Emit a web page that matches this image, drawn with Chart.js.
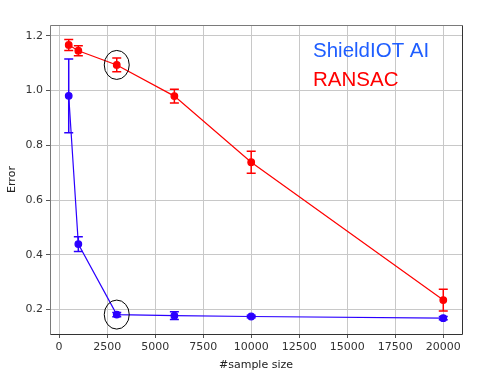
<!DOCTYPE html>
<html>
<head>
<meta charset="utf-8">
<script src="https://cdn.jsdelivr.net/npm/chart.js@4.4.1/dist/chart.umd.min.js"></script>
<style>
html,body{margin:0;padding:0;background:#fff;}
#wrap{width:483px;height:378px;position:relative;}
</style>
</head>
<body>
<div id="wrap"><canvas id="c" width="483" height="378"></canvas></div>
<script>
const sampleSizes = [500, 1000, 3000, 6000, 10000, 20000];
const shieldValues = [0.981, 0.439, 0.181, 0.177, 0.174, 0.168];
const shieldErrors = [0.135, 0.027, 0.008, 0.014, 0.005, 0.006];
const ransacValues = [1.167, 1.146, 1.094, 0.980, 0.738, 0.234];
const ransacErrors = [0.020, 0.018, 0.025, 0.025, 0.040, 0.040];
const xTicks = [0, 2500, 5000, 7500, 10000, 12500, 15000, 17500, 20000];
const yTicks = [0.2, 0.4, 0.6, 0.8, 1.0, 1.2];
const legendLabels = ['ShieldIOT AI', 'RANSAC'];
const highlightX = 3000;

const toPts = (xs, ys) => xs.map((x, i) => ({x: x, y: ys[i]}));
const BLUE = '#2b00ff', RED = '#ff0000';

const errorBarPlugin = {
  id: 'errbars',
  afterDatasetsDraw(chart) {
    const ctx = chart.ctx, xs = chart.scales.x, ys = chart.scales.y;
    chart.data.datasets.forEach(ds => {
      ctx.save();
      ctx.strokeStyle = ds.borderColor;
      ctx.lineWidth = 1.5;
      ds.data.forEach((p, i) => {
        const e = ds.errors[i];
        const px = xs.getPixelForValue(p.x);
        const y1 = ys.getPixelForValue(p.y + e), y2 = ys.getPixelForValue(p.y - e);
        ctx.beginPath();
        ctx.moveTo(px, y1); ctx.lineTo(px, y2);
        ctx.moveTo(px - 4.5, y1); ctx.lineTo(px + 4.5, y1);
        ctx.moveTo(px - 4.5, y2); ctx.lineTo(px + 4.5, y2);
        ctx.stroke();
      });
      ctx.restore();
    });
    // highlight ellipses
    ctx.save();
    ctx.strokeStyle = '#000';
    ctx.lineWidth = 1;
    const hi = sampleSizes.indexOf(highlightX);
    [ransacValues[hi], shieldValues[hi]].forEach(v => {
      const cx = xs.getPixelForValue(highlightX), cy = ys.getPixelForValue(v);
      ctx.beginPath();
      ctx.ellipse(cx, cy, 12.5, 14.5, 0, 0, Math.PI * 2);
      ctx.stroke();
    });
    ctx.restore();
    // frame
    const a = chart.chartArea;
    const L = Math.round(a.left) + 0.5, R = Math.round(a.right) + 0.5;
    const T = Math.round(a.top) + 0.5, B = Math.round(a.bottom) + 0.5;
    ctx.save();
    ctx.lineWidth = 1;
    ctx.strokeStyle = '#7a7a7a';
    ctx.beginPath(); ctx.moveTo(L, B); ctx.lineTo(L, T); ctx.lineTo(R, T); ctx.stroke();
    ctx.strokeStyle = '#333';
    ctx.beginPath(); ctx.moveTo(R, T); ctx.lineTo(R, B); ctx.lineTo(L, B); ctx.stroke();
    ctx.restore();
    // legend text
    ctx.save();
    ctx.font = '20.5px "Liberation Sans", Arial, sans-serif';
    ctx.textBaseline = 'alphabetic';
    ctx.textAlign = 'left';
    ctx.fillStyle = '#1f5eff';
    ctx.fillText(legendLabels[0], 313, 57);
    ctx.fillStyle = '#ff0000';
    ctx.fillText(legendLabels[1], 313, 86);
    ctx.restore();
  }
};

new Chart(document.getElementById('c'), {
  type: 'scatter',
  data: {
    datasets: [
      {label: legendLabels[1], data: toPts(sampleSizes, ransacValues), errors: ransacErrors,
       showLine: true, borderColor: RED, backgroundColor: RED, borderWidth: 1.2,
       pointRadius: 3.3, pointHoverRadius: 3.3},
      {label: legendLabels[0], data: toPts(sampleSizes, shieldValues), errors: shieldErrors,
       showLine: true, borderColor: BLUE, backgroundColor: BLUE, borderWidth: 1.2,
       pointRadius: 3.3, pointHoverRadius: 3.3}
    ]
  },
  options: {
    responsive: false,
    animation: false,
    layout: {padding: {top: 25, right: 21, left: 0, bottom: 0}},
    plugins: {legend: {display: false}, tooltip: {enabled: false}},
    scales: {
      x: {
        type: 'linear', min: -475, max: 20975,
        afterBuildTicks: s => { s.ticks = xTicks.map(v => ({value: v})); },
        afterFit: s => { s.height = 44; },
        ticks: {color: '#333', font: {family: 'DejaVu Sans', size: 11}, padding: 3,
                maxRotation: 0, callback: v => String(v)},
        grid: {color: '#c8c8c8', lineWidth: 1, drawTicks: true, tickLength: 4, tickColor: '#555'},
        border: {display: false},
        title: {display: true, text: '#sample size', color: '#222',
                font: {family: 'DejaVu Sans', size: 11}, padding: {top: 2, bottom: 6}}
      },
      y: {
        type: 'linear', min: 0.11, max: 1.24,
        afterBuildTicks: s => { s.ticks = yTicks.map(v => ({value: v})); },
        afterFit: s => { s.width = 50; },
        ticks: {color: '#333', font: {family: 'DejaVu Sans', size: 11}, padding: 3,
                callback: v => v.toFixed(1)},
        grid: {color: '#c8c8c8', lineWidth: 1, drawTicks: true, tickLength: 4, tickColor: '#555'},
        border: {display: false},
        title: {display: true, text: 'Error', color: '#222',
                font: {family: 'DejaVu Sans', size: 11}, padding: {top: 6, bottom: 2}}
      }
    }
  },
  plugins: [errorBarPlugin]
});
</script>
</body>
</html>
